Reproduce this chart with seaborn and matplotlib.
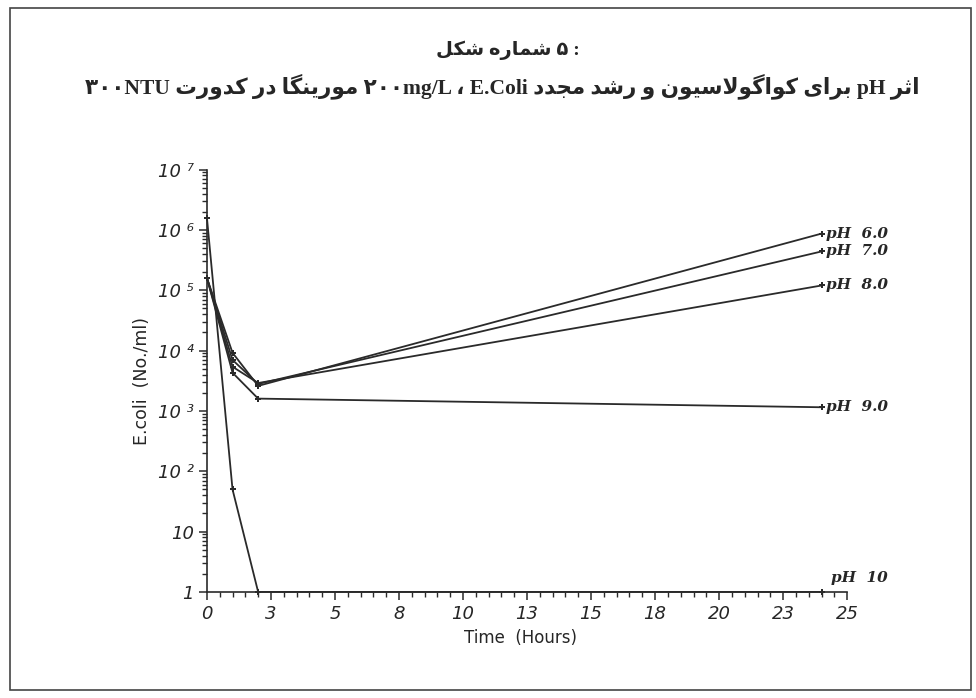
import numpy as np
import pandas as pd
import seaborn as sns
import matplotlib.pyplot as plt
from matplotlib.ticker import FixedLocator, MultipleLocator, LogLocator, NullFormatter
from matplotlib.patches import Rectangle

# values
hours = [0, 1, 2, 24]
ph_names = ["pH  6.0", "pH  7.0", "pH  8.0", "pH  9.0", "pH  10"]
ph6 = [1.6e5, 9.2e3, 2.6e3, 8.7e5]
ph7 = [1.6e5, 7.0e3, 2.8e3, 4.4e5]
ph8 = [1.6e5, 5.4e3, 2.9e3, 1.2e5]
ph9 = [1.6e5, 4.3e3, 1.6e3, 1.15e3]
ph10 = [1.6e6, 50, 1, 1]

x_ticks = [0, 2.5, 5, 7.5, 10, 12.5, 15, 17.5, 20, 22.5, 25]
x_tick_labels = ["0", "3", "5", "8", "10", "13", "15", "18", "20", "23", "25"]
y_ticks = [1, 10, 1e2, 1e3, 1e4, 1e5, 1e6, 1e7]
y_tick_labels = ["1", "10", "10 \u00b2", "10 \u00b3", "10 \u2074", "10 \u2075", "10 \u2076", "10 \u2077"]

title1 = "شکل شماره ۵ :"
title2 = "اثر pH برای کواگولاسیون و رشد مجدد E.Coli ، ۲۰۰mg/L مورینگا در کدورت ۳۰۰NTU"

# matplotlib does no arabic shaping, so pick presentation forms by hand
FORMS = {
    'ا': ('\uFE8D', '\uFE8E', None, None),
    'ب': ('\uFE8F', '\uFE90', '\uFE91', '\uFE92'),
    'ت': ('\uFE95', '\uFE96', '\uFE97', '\uFE98'),
    'ث': ('\uFE99', '\uFE9A', '\uFE9B', '\uFE9C'),
    'ج': ('\uFE9D', '\uFE9E', '\uFE9F', '\uFEA0'),
    'د': ('\uFEA9', '\uFEAA', None, None),
    'ر': ('\uFEAD', '\uFEAE', None, None),
    'س': ('\uFEB1', '\uFEB2', '\uFEB3', '\uFEB4'),
    'ش': ('\uFEB5', '\uFEB6', '\uFEB7', '\uFEB8'),
    'ل': ('\uFEDD', '\uFEDE', '\uFEDF', '\uFEE0'),
    'م': ('\uFEE1', '\uFEE2', '\uFEE3', '\uFEE4'),
    'ن': ('\uFEE5', '\uFEE6', '\uFEE7', '\uFEE8'),
    'ه': ('\uFEE9', '\uFEEA', '\uFEEB', '\uFEEC'),
    'و': ('\uFEED', '\uFEEE', None, None),
    'ک': ('\uFB8E', '\uFB8F', '\uFB90', '\uFB91'),
    'گ': ('\uFB92', '\uFB93', '\uFB94', '\uFB95'),
    'ی': ('\uFBFC', '\uFBFD', '\uFBFE', '\uFBFF'),
    '\uFEFB': ('\uFEFB', '\uFEFC', None, None),  # lam-alef
}


def shape_word(word):
    word = word.replace('لا', '\uFEFB')
    out = []
    for i, c in enumerate(word):
        if c not in FORMS:
            out.append(c)
            continue
        prev = word[i - 1] if i > 0 else None
        nxt = word[i + 1] if i + 1 < len(word) else None
        join_prev = prev in FORMS and FORMS[prev][2] is not None
        join_next = nxt in FORMS and FORMS[c][2] is not None
        if join_prev and join_next:
            out.append(FORMS[c][3])
        elif join_prev:
            out.append(FORMS[c][1])
        elif join_next:
            out.append(FORMS[c][2])
        else:
            out.append(FORMS[c][0])
    return ''.join(out)


def visual(text, rtl_order=True):
    words = []
    for w in text.split(' '):
        if any(ch in FORMS for ch in w):
            words.append(shape_word(w)[::-1])
        else:
            words.append(w)
    if rtl_order:
        words = words[::-1]
    return ' '.join(words)


rows = []
for name, vals in zip(ph_names, [ph6, ph7, ph8, ph9, ph10]):
    for h, v in zip(hours, vals):
        rows.append({"hours": h, "count": v, "ph": name})
df = pd.DataFrame(rows)

sns.set_style("ticks")
plt.rcParams['font.family'] = ['DejaVu Sans']

fig = plt.figure(figsize=(9.76, 6.98), dpi=100)
ax = fig.add_axes([0.212, 0.152, 0.656, 0.605])

line_col = "#2a2a2a"
sns.lineplot(data=df, x="hours", y="count", hue="ph", units="ph", estimator=None,
             palette={n: line_col for n in ph_names}, marker="P", markersize=5,
             markeredgewidth=0, linewidth=1.3, legend=False, ax=ax, clip_on=False)

ax.set_yscale("log")
ax.set_xlim(0, 25)
ax.set_ylim(1, 1e7)

ax.xaxis.set_major_locator(FixedLocator(x_ticks))
ax.xaxis.set_minor_locator(MultipleLocator(0.5))
ax.set_xticklabels(x_tick_labels, fontstyle="italic", fontsize=13)
ax.yaxis.set_major_locator(FixedLocator(y_ticks))
ax.yaxis.set_minor_locator(LogLocator(base=10, subs=range(2, 10), numticks=20))
ax.yaxis.set_minor_formatter(NullFormatter())
ax.set_yticklabels(y_tick_labels, fontstyle="italic", fontsize=13)

ax.tick_params(axis="both", which="major", length=6, width=1.1, color=line_col)
ax.tick_params(axis="both", which="minor", length=3.5, width=1.0, color=line_col)
sns.despine(ax=ax)
for s in ["left", "bottom"]:
    ax.spines[s].set_color(line_col)
    ax.spines[s].set_linewidth(1.2)

ax.set_xlabel("Time  (Hours)", fontsize=12)
ax.set_ylabel("E.coli  (No./ml)", fontsize=12.5)
ax.xaxis.set_label_coords(0.49, -0.088)
ax.yaxis.set_label_coords(-0.088, 0.50)

lab_font = dict(family="DejaVu Serif", fontstyle="italic", fontweight="bold", fontsize=11)
for name, vals in zip(ph_names[:4], [ph6, ph7, ph8, ph9]):
    ax.annotate(name, (hours[-1], vals[-1]), xytext=(3, 0), textcoords="offset points",
                ha="left", va="center", annotation_clip=False, **lab_font)
ax.annotate(ph_names[4], (hours[-1], ph10[-1]), xytext=(7, 10), textcoords="offset points",
            ha="left", va="center", annotation_clip=False, **lab_font)

title_font = ['Liberation Serif', 'DejaVu Sans']
# the scan prints the first line with its words running left to right
fig.text(0.52, 0.928, visual(title1, rtl_order=False), ha="center", va="center",
         fontsize=14, fontweight="bold", family=title_font)
fig.text(0.515, 0.877, visual(title2), ha="center", va="center", fontsize=15.5,
         fontweight="bold", family=title_font)

fig.patches.append(Rectangle((0.01, 0.012), 0.985, 0.976, transform=fig.transFigure,
                             fill=False, edgecolor="#444444", linewidth=1.2))

fig.savefig("out.png", dpi=100)
